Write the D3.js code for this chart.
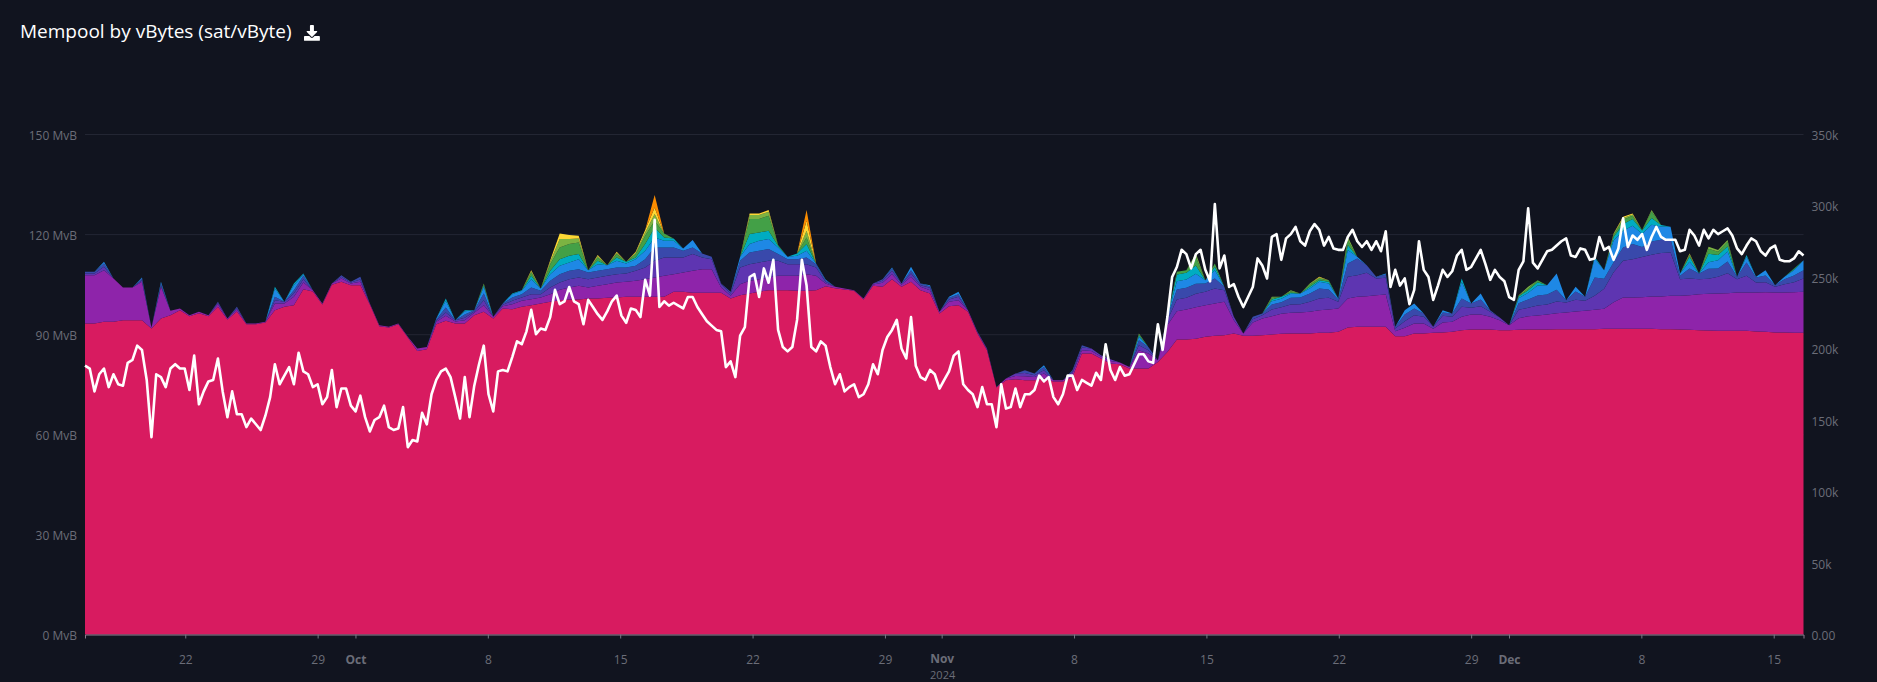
<!DOCTYPE html>
<html><head><meta charset="utf-8">
<script src="https://cdn.jsdelivr.net/npm/d3@7"></script>
<style>
html,body{margin:0;padding:0;background:#11141f;overflow:hidden}
svg{display:block}
text{font-family:"Open Sans","Noto Sans",sans-serif}
</style></head><body>
<svg id="c" width="1877" height="682"></svg>
<script>
const titleText = "Mempool by vBytes (sat/vByte)";
const layerStart = Date.UTC(2024, 8, 16, 16, 45);   // first sample of the stacked layers
const lineStart = Date.UTC(2024, 8, 16, 16, 45);    // first sample of the white line

const leftTicks = [0, 30, 60, 90, 120, 150];
const leftLabels = ["0 MvB", "30 MvB", "60 MvB", "90 MvB", "120 MvB", "150 MvB"];
const rightTicks = [0, 50, 100, 150, 200, 250, 300, 350];
const rightLabels = ["0.00", "50k", "100k", "150k", "200k", "250k", "300k", "350k"];
const xTickDates = ["2024-09-22","2024-09-29","2024-10-01","2024-10-08","2024-10-15","2024-10-22","2024-10-29","2024-11-01","2024-11-08","2024-11-15","2024-11-22","2024-11-29","2024-12-01","2024-12-08","2024-12-15"];
const xTickLabels = ["22","29","Oct","8","15","22","29","Nov","8","15","22","29","Dec","8","15"];
const monthLabels = ["Oct","Nov","Dec"];

const layerKeys = ["red","purple","deep","indigo","blue","cyan","green","lime","yellow","orange"];
const layerColors = ["#d81b60","#8e24aa","#5e35b1","#3949ab","#1e88e5","#00acc1","#43a047","#7cb342","#fdd835","#fb8c00"];

const red = [93.2,93.2,93.7,93.7,94.2,94.2,94.2,91.7,94.7,95.7,
97.2,95.4,96.3,95.4,98.2,94.4,96.8,93,93,93.5,
97.2,98.2,98.7,103.5,102.8,98.9,104.8,105.7,104.7,104.7,
98.9,92.4,92,93,89,85,85.5,93,94,93.2,
93.2,95.7,96.7,94.7,97.7,97.5,98.2,98.7,99.2,99.7,
100.2,100.4,100.4,100.7,100.7,100.9,101,101.2,101.2,101.2,
101.2,101.2,102.7,102.7,102.4,102.4,102.4,102.4,100.7,101.7,
102.2,102.7,103.2,103.2,103.2,103,103,103.2,104.4,103.8,
103.4,103,100.4,104.5,104.2,106.5,104.2,105.7,103.2,102.2,
96.2,98.4,98.7,96.7,90.2,85.2,74,76.2,76.5,76.2,
76.2,76.7,75.8,75.8,77.2,84.2,84.2,82.7,81.2,81,
79.7,79.7,79.7,81.7,84.7,88.4,88.4,88.6,89.2,89.5,
89.7,90.2,89.5,89.5,89.7,89.9,90.1,90.2,90.2,90.2,
90.4,90.4,90.7,92,92.2,92.2,92.2,92.2,89.4,89.4,
90.2,90.2,90.4,90.5,90.7,91.2,91.4,91.4,91.4,91.2,
91.2,91.3,91.4,91.4,91.4,91.5,91.5,91.5,91.5,91.5,
91.6,91.6,91.6,91.6,91.6,91.6,91.5,91.5,91.4,91.3,
91.2,91.1,91,91,91,91,90.8,90.7,90.5,90.5,90.4,90.4];

const purple = [14.5,14.5,15.5,13,9.8,9.8,11.5,.3,9.5,1.3,
.5,.3,.4,.3,.8,.3,.6,.2,.2,.2,
2,1,2.5,2,.4,.3,.4,1,.5,1,
.3,.3,.2,.2,.2,.7,.7,.7,1.5,.6,
1,.7,2,.5,.7,1.5,1.8,1.8,1.8,2.3,
3.1,3.6,4.1,3.3,3.8,4.1,4.5,4.5,4.8,5.3,
5.8,6.3,5.3,5.8,6.6,7.1,7.1,1.6,.8,3.3,
3.8,3.8,3.8,4.3,4.3,4.5,5,4.3,.8,.4,
.3,.2,.3,.4,1.2,1.5,.6,1.5,1,1,
.5,1.3,1.5,.5,.3,.3,.2,.5,1,1.2,
1,1.5,.4,.4,1,1,.8,.6,.8,.5,
.5,5.5,4.5,.5,8,8.5,9,9.5,9.5,9.7,
10,4,.7,4,5,5.5,6,6.2,6.3,6.5,
6.8,7,7,8.7,9,9.2,9.5,9.7,1.5,2.5,
3,3,1.2,3,3,4,4.5,4.5,3.8,3,
1.5,3.5,4,4.2,4.5,4.8,5,5.3,5.5,5.8,
6,8,9.4,9.4,9.5,9.7,9.8,10,10.1,10.4,
10.8,11,11.2,11.3,11.5,11.5,11.7,11.9,12,12,12.2,12.3];

const deep = [.5,.5,1,0,0,0,.5,0,.5,0,
0,0,0,0,.4,0,.4,0,0,0,
1,.5,1,1,0,0,0,.5,.3,.7,
0,0,0,0,0,0,0,.4,1,.4,
.7,.4,1.5,0,.4,1,1,1.5,1,2,
2.2,2.5,2.5,2.5,2.5,2.5,2.5,2.5,3,3.5,
5,5.5,5,4.5,5,3.5,3,1,.7,5,
5,5,5,4.5,3.5,3.5,3,2.5,.5,0,
0,0,0,.3,.6,1,.4,1,.5,.7,
0,.7,1,0,.2,.2,0,0,.7,1,
.5,1,0,0,.5,.8,.7,.4,.5,0,
0,1.5,1,0,1.5,3.5,3.5,4,4,4.5,
3.5,1,0,1,1,2,2,2.5,2.5,3,
3.5,3.5,2,6.5,6.5,7,5,5,.8,2,
2.5,2,.6,2,1.5,3,2,2.5,1.5,.8,
0,2.5,2.5,3,3,3.5,3,3.5,3,4.2,
6,9,11,11.5,12,12.5,13,13,5,5,
4.5,4.5,5,6,4,5,3,3,1.7,2.5,3,4];

const indigo = [.5,.5,1,0,0,0,.5,0,.5,0,
0,0,0,0,.3,0,.4,0,0,0,
1,0,1,1,0,0,0,.5,.2,.8,
0,0,0,0,0,0,0,.3,1.5,0,
1,.4,2,0,.4,1,1,2,1,2,
2.5,2.5,2.5,2,2,2,2,1.8,1.5,2.5,
4,3,3,2,2,1.2,.7,.2,.5,2,
3.5,3.5,3.5,2,1.5,1.5,2,1,.5,0,
0,0,0,0,.5,.7,0,1,.5,.5,
0,.5,.8,0,0,0,0,0,0,.8,
.5,1,0,0,.5,.7,0,0,0,0,
0,1.5,1,0,1,3,3,3,2.5,3,
1,0,0,.7,.5,1.5,1.5,2,2,2.5,
3,2.5,.7,4,5,2.3,.5,1,.5,2,
2,1,0,1,1,2.5,1.3,2,.5,0,
0,2,2.5,3,3,3.5,.7,2.5,1.2,5.5,
3,3,4,4.5,3,4,4,4,1,3,
1.7,3,2.5,3.5,.7,4,1.5,2,.5,1.5,2,2.5];

const blue = [0,0,.5,0,0,0,.3,0,.5,0,
0,0,0,0,0,0,0,0,0,0,
2.5,0,1.5,.5,0,0,0,0,0,0,
0,0,0,0,0,0,0,.3,2,0,
1,0,2,0,0,1,1,2.5,.7,2,
2.5,2.5,3,.7,2,1.2,2,1.2,2,2.5,
3,2,2,.7,2.2,0,0,0,0,1.2,
2.5,3,3,2,.7,1,2,.2,.2,0,
0,0,0,0,0,.3,0,1,0,.3,
0,.3,.7,0,0,0,0,0,0,0,
0,.5,0,0,0,0,0,0,0,0,
0,1,0,0,0,2.5,2.5,3,1,2.5,
0,0,0,0,0,1,1,1.2,1.2,1.5,
2,1.8,.3,4,.5,0,0,.3,0,1.3,
1.5,0,0,.7,0,5,0,1.8,0,0,
0,1.5,2,3,2.8,4.9,0,1.4,0,5.7,
2.6,6.5,5,5.5,4,5,4,3.7,.7,2,
0,2,2.5,3,0,1.7,.2,1.6,0,.7,1.6,3];

const cyan = [0,0,0,0,0,0,0,0,0,0,
0,0,0,0,0,0,0,0,0,0,
.5,0,.5,.2,0,0,0,0,0,0,
0,0,0,0,0,0,0,0,.7,0,
.3,0,.5,0,0,.2,.2,1,0,1,
2,2,1.5,0,1,0,1,.5,.5,2,
3,1,.7,0,0,0,0,0,0,0,
3,2.5,2.5,.5,0,.7,2,0,0,0,
0,0,0,0,0,0,0,0,0,0,
0,0,0,0,0,0,0,0,0,0,
0,0,0,0,0,0,0,0,0,0,
0,.5,0,0,0,2,2,2.5,0,1,
0,0,0,0,0,.5,.6,.3,0,.5,
.5,.5,0,1.5,0,0,0,0,0,0,
0,0,0,0,0,1,0,0,0,0,
0,.5,.8,1,0,0,0,0,0,.5,
0,1,2,2,1,2,.4,0,0,1.5,
0,2.5,1.5,1.5,0,.5,0,0,0,0,.3,0];

const green = [0,0,0,0,0,0,0,0,0,0,
0,0,0,0,0,0,0,0,0,0,
0,0,0,0,0,0,0,0,0,0,
0,0,0,0,0,0,0,0,0,0,
0,0,.3,0,0,0,0,1,0,2,
3.5,3.5,3.5,0,1,0,1,0,1,2.5,
2,1.2,0,0,0,0,0,0,0,0,
4.5,4,4.5,.2,0,0,2,0,0,0,
0,0,0,0,0,0,0,0,0,0,
0,0,0,0,0,0,0,0,0,0,
0,0,0,0,0,0,0,0,0,0,
0,.3,0,0,0,.8,.8,2.6,0,1,
0,0,0,0,0,.5,0,.5,0,.7,
.5,.5,0,1.5,0,0,0,0,0,0,
0,0,0,0,0,0,0,0,0,0,
0,.2,.5,.6,0,0,0,0,0,0,
0,.6,1.3,1,.1,2,0,0,0,.5,
0,1.5,1,1.4,0,0,0,0,0,0,.2,0];

const lime = [0,0,0,0,0,0,0,0,0,0,
0,0,0,0,0,0,0,0,0,0,
0,0,0,0,0,0,0,0,0,0,
0,0,0,0,0,0,0,0,0,0,
0,0,.2,0,0,0,0,.4,0,.7,
2.5,1.5,1.2,0,.4,0,.4,0,.4,1,
2,0,0,0,0,0,0,0,0,0,
1.2,1.2,1.2,0,0,0,2,0,0,0,
0,0,0,0,0,0,0,0,0,0,
0,0,0,0,0,0,0,0,0,0,
0,0,0,0,0,0,0,0,0,0,
0,.2,0,0,0,0,0,1,0,0,
0,0,0,0,0,.3,0,.3,0,.3,
.3,0,0,1,0,0,0,0,0,0,
0,0,0,0,0,0,0,0,0,0,
0,.2,.5,0,0,0,0,0,0,0,
0,.3,.5,.4,0,.4,0,0,0,.3,
0,.6,.5,.5,0,0,0,0,0,0,0,0];

const yellow = [0,0,0,0,0,0,0,0,0,0,
0,0,0,0,0,0,0,0,0,0,
0,0,0,0,0,0,0,0,0,0,
0,0,0,0,0,0,0,0,0,0,
0,0,0,0,0,0,0,.3,0,.5,
1.7,1.2,.8,0,.3,0,.3,0,.3,.7,
2,0,0,0,0,0,0,0,0,0,
.5,.5,.5,0,0,0,3,0,0,0,
0,0,0,0,0,0,0,0,0,0,
0,0,0,0,0,0,0,0,0,0,
0,0,0,0,0,0,0,0,0,0,
0,0,0,0,0,0,0,0,0,0,
0,0,0,0,0,0,0,0,0,0,
.2,0,0,0,0,0,0,0,0,0,
0,0,0,0,0,0,0,0,0,0,
0,0,0,0,0,0,0,0,0,0,
0,.2,.4,.3,0,0,0,0,0,.2,
0,0,0,0,0,0,0,0,0,0,0,0];

const orange = [0,0,0,0,0,0,0,0,0,0,
0,0,0,0,0,0,0,0,0,0,
0,0,0,0,0,0,0,0,0,0,
0,0,0,0,0,0,0,0,0,0,
0,0,0,0,0,0,0,0,0,0,
0,0,0,0,0,0,0,0,0,0,
3.7,0,0,0,0,0,0,0,0,0,
0,0,0,0,0,0,3.2,0,0,0,
0,0,0,0,0,0,0,0,0,0,
0,0,0,0,0,0,0,0,0,0,
0,0,0,0,0,0,0,0,0,0,
0,0,0,0,0,0,0,0,0,0,
0,0,0,0,0,0,0,0,0,0,
0,0,0,0,0,0,0,0,0,0,
0,0,0,0,0,0,0,0,0,0,
0,0,0,0,0,0,0,0,0,0,
0,0,0,0,0,0,0,0,0,0,
0,0,0,0,0,0,0,0,0,0,0,0];

// white line, thousands, one value about every 6 hours
const txCount = [188,186,170,182,186,173,182,175,174,190,
192,202,199,178,138,182,180,173,186,189,
186,186,171,195,161,170,177,178,193,170,
152,170,154,154,145,151,147,143,153,166,
189,175,181,187,175,197,184,182,173,175,
161,166,185,159,172,172,160,156,167,152,
142,150,152,160,145,143,144,159,131,136,
135,155,147,168,178,184,186,180,166,151,
180,152,174,189,202,168,156,184,185,184,
194,205,203,212,227,210,214,213,222,241,
231,233,243,233,231,217,234,229,224,220,
226,233,237,223,218,228,227,222,248,237,
290,229,233,230,232,230,228,236,236,229,
224,219,216,213,212,187,191,180,209,215,
250,252,236,256,246,262,213,201,198,201,
220,262,244,201,198,205,202,187,175,182,
170,173,175,166,168,175,189,182,199,208,
213,220,200,193,222,188,180,178,185,182,
172,178,184,195,198,175,171,168,159,173,
161,161,145,175,158,159,172,159,168,168,
171,181,177,180,166,161,168,181,181,171,
178,176,174,183,178,203,185,178,187,181,
182,189,196,196,191,190,217,199,222,250,
257,269,266,256,266,269,255,247,301,256,
265,243,245,236,229,236,243,263,258,249,
278,280,262,277,280,285,275,272,282,287,
283,272,278,270,269,269,278,283,275,271,
275,269,275,268,282,243,255,244,249,231,
241,275,255,250,234,244,255,250,254,265,
269,255,257,263,269,259,248,255,250,247,
236,234,255,261,298,260,256,262,268,269,
272,275,277,265,264,270,269,262,263,278,
269,271,262,270,291,271,279,276,280,269,
278,285,278,276,276,276,268,269,283,279,
272,283,277,283,280,282,284,279,270,266,
272,277,275,268,265,270,272,262,261,261,
263,268,265];

const M = {left:85, right:1803.5, top:134, bottom:634.5};
const LAYER_STEP = 12.05*3600e3, LINE_STEP = 6.025*3600e3;
const series = {red,purple,deep,indigo,blue,cyan,green,lime,yellow,orange};
const rows = red.map((_, i) => {
  const r = {t:new Date(layerStart + i*LAYER_STEP)};
  layerKeys.forEach(k => r[k] = series[k][i] || 0);
  return r;
});
const linePts = txCount.map((v,i) => ({t:new Date(lineStart + i*LINE_STEP), v}));

const x = d3.scaleUtc().domain([new Date(layerStart), new Date(layerStart + (red.length-1)*LAYER_STEP)]).range([M.left, M.right]);
const yL = d3.scaleLinear().domain([0,150]).range([M.bottom, M.top]);
const yR = d3.scaleLinear().domain([0,350]).range([M.bottom, M.top]);

const svg = d3.select("#c");
const GREY = "#6b6d78";

// grid + left axis
const gl = svg.append("g").attr("transform",`translate(${M.left},0)`)
  .call(d3.axisLeft(yL).tickValues(leftTicks).tickSize(-(M.right-M.left)).tickPadding(8)
    .tickFormat((d,i)=>leftLabels[i]));
gl.select(".domain").remove();
gl.selectAll("line").attr("stroke","#232633").attr("stroke-width",1);
gl.selectAll("text").attr("fill",GREY).attr("font-size",12).attr("dy","0.45em");

// stacked layers
const stack = d3.stack().keys(layerKeys)(rows);
const area = d3.area().x(d=>x(d.data.t)).y0(d=>yL(d[0])).y1(d=>yL(d[1]));
svg.append("g").selectAll("path").data(stack).join("path")
  .attr("d",area).attr("fill",(d,i)=>layerColors[i]);

// white line
svg.append("path").datum(linePts)
  .attr("d",d3.line().x(d=>x(d.t)).y(d=>yR(d.v)))
  .attr("fill","none").attr("stroke","#fff").attr("stroke-width",2.6).attr("stroke-linejoin","round");

// right axis
const gr = svg.append("g").attr("transform",`translate(${M.right},0)`)
  .call(d3.axisRight(yR).tickValues(rightTicks).tickSize(0).tickPadding(8)
    .tickFormat((d,i)=>rightLabels[i]));
gr.select(".domain").remove();
gr.selectAll("text").attr("fill",GREY).attr("font-size",12).attr("dy","0.45em");

// bottom axis
const tickDates = xTickDates.map(d=>new Date(d+"T00:00:00Z"));
const gb = svg.append("g").attr("transform",`translate(0,${M.bottom})`)
  .call(d3.axisBottom(x).tickValues(tickDates).tickSize(4).tickPadding(17)
    .tickFormat((d,i)=>xTickLabels[i]));
gb.select(".domain").attr("stroke","#8a7d8c").attr("stroke-width",1);
gb.selectAll("line").attr("stroke","#777985");
gb.selectAll("text").attr("fill",GREY).attr("font-size",12)
  .attr("font-weight",(d,i)=>monthLabels.includes(xTickLabels[i])?700:400)
  .filter((d,i)=>xTickLabels[i]==="Nov").attr("dy","0.62em");
svg.append("text").attr("x",x(new Date("2024-11-01T00:00:00Z"))+1).attr("y",678.7)
  .attr("text-anchor","middle").attr("fill",GREY).attr("font-size",11).text("2024");

// title + icon
svg.append("text").attr("x",20).attr("y",38).attr("fill","#ffffff").attr("font-size",19).text(titleText);
svg.append("path").attr("transform","translate(304,25) scale(0.031)").attr("fill","#fff")
  .attr("d","M216 0h80c13.3 0 24 10.7 24 24v168h87.7c17.8 0 26.7 21.5 14.1 34.1L269.7 378.3c-7.5 7.5-19.8 7.5-27.3 0L90.1 226.1c-12.6-12.6-3.7-34.1 14.1-34.1H192V24c0-13.3 10.7-24 24-24zm296 376v112c0 13.3-10.7 24-24 24H24c-13.3 0-24-10.7-24-24V376c0-13.3 10.7-24 24-24h146.7l49 49c20.1 20.1 52.5 20.1 72.6 0l49-49H488c13.3 0 24 10.7 24 24z");
</script>
</body></html>
